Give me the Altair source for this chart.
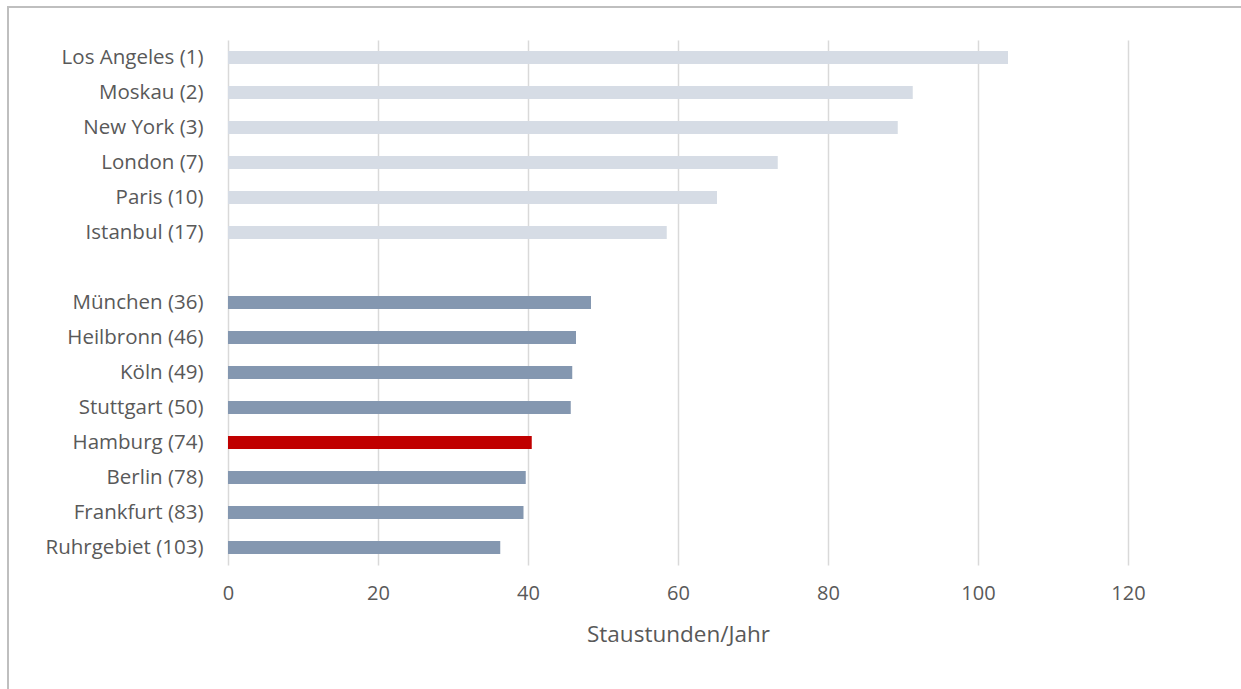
import altair as alt
import pandas as pd

cities = ["Los Angeles (1)", "Moskau (2)", "New York (3)", "London (7)", "Paris (10)", "Istanbul (17)",
          "München (36)", "Heilbronn (46)", "Köln (49)", "Stuttgart (50)", "Hamburg (74)",
          "Berlin (78)", "Frankfurt (83)", "Ruhrgebiet (103)"]
hours = [104.0, 91.3, 89.3, 73.3, 65.2, 58.5, 48.4, 46.4, 45.9, 45.7, 40.5, 39.7, 39.4, 36.3]
groups = ["Welt"] * 6 + ["Deutschland"] * 4 + ["Hamburg"] + ["Deutschland"] * 3

order = cities[:6] + [" "] + cities[6:]
x_ticks = [0, 20, 40, 60, 80, 100, 120]

df = pd.DataFrame({"Stadt": cities, "Stunden": hours, "Gruppe": groups})

FONT = "Open Sans"
TXT = "#595959"

bars = alt.Chart(df).mark_bar(size=13).encode(
    y=alt.Y("Stadt:N", sort=order,
            scale=alt.Scale(domain=order, paddingInner=0, paddingOuter=0),
            axis=alt.Axis(title=None, ticks=False, domain=False, grid=False,
                          labelFont=FONT, labelFontSize=20.5, labelColor=TXT,
                          labelPadding=25)),
    x=alt.X("Stunden:Q", scale=alt.Scale(domain=[0, 120], nice=False),
            axis=alt.Axis(values=x_ticks, title="Staustunden/Jahr", ticks=False, domain=False,
                          grid=True, gridColor="#d9d9d9", gridWidth=1.5, labelFlush=False,
                          labelFont=FONT, labelFontSize=20, labelColor=TXT, labelPadding=18,
                          titleFont=FONT, titleFontSize=22.5, titleColor=TXT,
                          titleFontWeight="normal", titlePadding=20)),
    color=alt.Color("Gruppe:N",
                    scale=alt.Scale(domain=["Welt", "Deutschland", "Hamburg"],
                                    range=["#d6dce5", "#8497b0", "#c00000"]),
                    legend=None),
)

frame = alt.Chart(df).mark_rect(fill=None, stroke="#bfbfbf", strokeWidth=2).encode(
    x=alt.value(-220), x2=alt.value(1100), y=alt.value(-33), y2=alt.value(700)
)

chart = alt.layer(frame, bars).properties(
    width=900, height=525,
    autosize=alt.AutoSizeParams(type="none"),
    padding={"left": 228, "top": 40, "right": 113, "bottom": 124},
    background="white",
).configure_view(stroke=None)

chart.save("out.html", embed_options={"renderer": "svg", "actions": False})
